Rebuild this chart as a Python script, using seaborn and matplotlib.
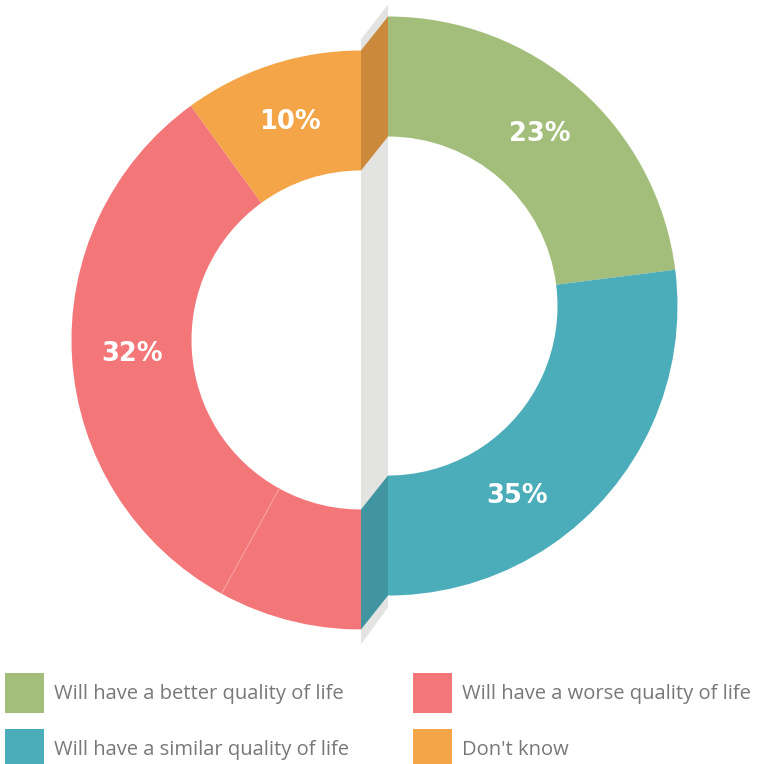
import numpy as np
import matplotlib.pyplot as plt
from matplotlib.patches import Rectangle, Polygon, Patch
import seaborn as sns

# ------------------- DATA -------------------
categories = [
    "Will have a better quality of life",
    "Will have a similar quality of life",
    "Will have a worse quality of life",
    "Don't know",
]
shares = [23, 35, 32, 10]
colors = sns.color_palette(["#A2BE7A", "#4BADBA", "#F37679", "#F4A548"])

# ------------------- LAYOUT -------------------
R_OUT = 289.5
WIDTH = 120
left_c = (361, 424)    # left half of the split ring
right_c = (388, 458)   # right half, shifted up/right
PCT_DIST = (R_OUT - WIDTH / 2) / R_OUT

sns.set_theme(style="white")
plt.rcParams["font.family"] = ["Open Sans", "DejaVu Sans"]

fig = plt.figure(figsize=(7.6, 7.64), dpi=100)
ax = fig.add_axes([0, 0, 1, 1])


def darker(c, f=0.83):
    return tuple(v * f for v in c)


# grey "thickness" band between the two halves
band = Polygon([(left_c[0], left_c[1] + R_OUT + 11), (right_c[0], right_c[1] + R_OUT + 12),
                (right_c[0], right_c[1] - R_OUT - 12), (left_c[0], left_c[1] - R_OUT - 15)],
               closed=True, facecolor="#E3E3E1", edgecolor="none", zorder=0)
ax.add_patch(band)

label_kw = dict(color="white", fontsize=18.5, fontweight="bold", family=["DejaVu Sans"])

# right half: green + teal
wedges_r, _, pct_r = ax.pie(shares, colors=colors, startangle=90, counterclock=False,
                            radius=R_OUT, center=right_c, autopct="%.0f%%",
                            pctdistance=PCT_DIST, textprops=label_kw,
                            wedgeprops=dict(width=WIDTH, linewidth=0))
clip_r = Rectangle((right_c[0], 0), 800, 800, transform=ax.transData)
for w in wedges_r:
    w.set_clip_on(True)
    w.set_clip_path(clip_r)

# left half: the teal overflow is shown in red
left_colors = [colors[0], colors[2], colors[2], colors[3]]
wedges_l, _, pct_l = ax.pie(shares, colors=left_colors, startangle=90, counterclock=False,
                            radius=R_OUT, center=left_c, autopct="%.0f%%",
                            pctdistance=PCT_DIST, textprops=label_kw,
                            wedgeprops=dict(width=WIDTH, linewidth=0))
clip_l = Rectangle((0, 0), left_c[0], 800, transform=ax.transData)
for w in wedges_l:
    w.set_clip_on(True)
    w.set_clip_path(clip_l)

# keep each label on its own half
for i, t in enumerate(pct_r):
    t.set_visible(i < 2)
for i, t in enumerate(pct_l):
    t.set_visible(i >= 2)

# faint seam where the teal share ends inside the red part
theta = np.deg2rad(90 - 360 * (shares[0] + shares[1]) / sum(shares))
r = np.array([R_OUT - WIDTH, R_OUT])
ax.plot(left_c[0] + r * np.cos(theta), left_c[1] + r * np.sin(theta),
        color="#F7A3A5", lw=0.7, zorder=3)

# cut faces of the ring
top_face = Polygon([(left_c[0], left_c[1] + R_OUT - WIDTH), (left_c[0], left_c[1] + R_OUT),
                    (right_c[0], right_c[1] + R_OUT), (right_c[0], right_c[1] + R_OUT - WIDTH)],
                   closed=True, facecolor=darker(colors[3]), edgecolor="none", zorder=2)
bot_face = Polygon([(left_c[0], left_c[1] - R_OUT + WIDTH), (left_c[0], left_c[1] - R_OUT),
                    (right_c[0], right_c[1] - R_OUT), (right_c[0], right_c[1] - R_OUT + WIDTH)],
                   closed=True, facecolor=darker(colors[1], 0.86), edgecolor="none", zorder=2)
ax.add_patch(top_face)
ax.add_patch(bot_face)

ax.set_xlim(0, 760)
ax.set_ylim(0, 764)
ax.axis("off")

# ------------------- LEGEND -------------------
handles = [Patch(facecolor=c, edgecolor="none") for c in colors]
leg_kw = dict(loc="upper left", frameon=False, borderpad=0, borderaxespad=0,
              handlelength=1.93, handleheight=2.65, handletextpad=0.5,
              labelspacing=0.8, fontsize=14.5, labelcolor="#77787B")
leg1 = ax.legend(handles[:2], categories[:2], bbox_to_anchor=(5 / 760, 1 - 673 / 764), **leg_kw)
ax.add_artist(leg1)
ax.legend(handles[2:], categories[2:], bbox_to_anchor=(413 / 760, 1 - 673 / 764), **leg_kw)

fig.savefig("out.png", dpi=100)
